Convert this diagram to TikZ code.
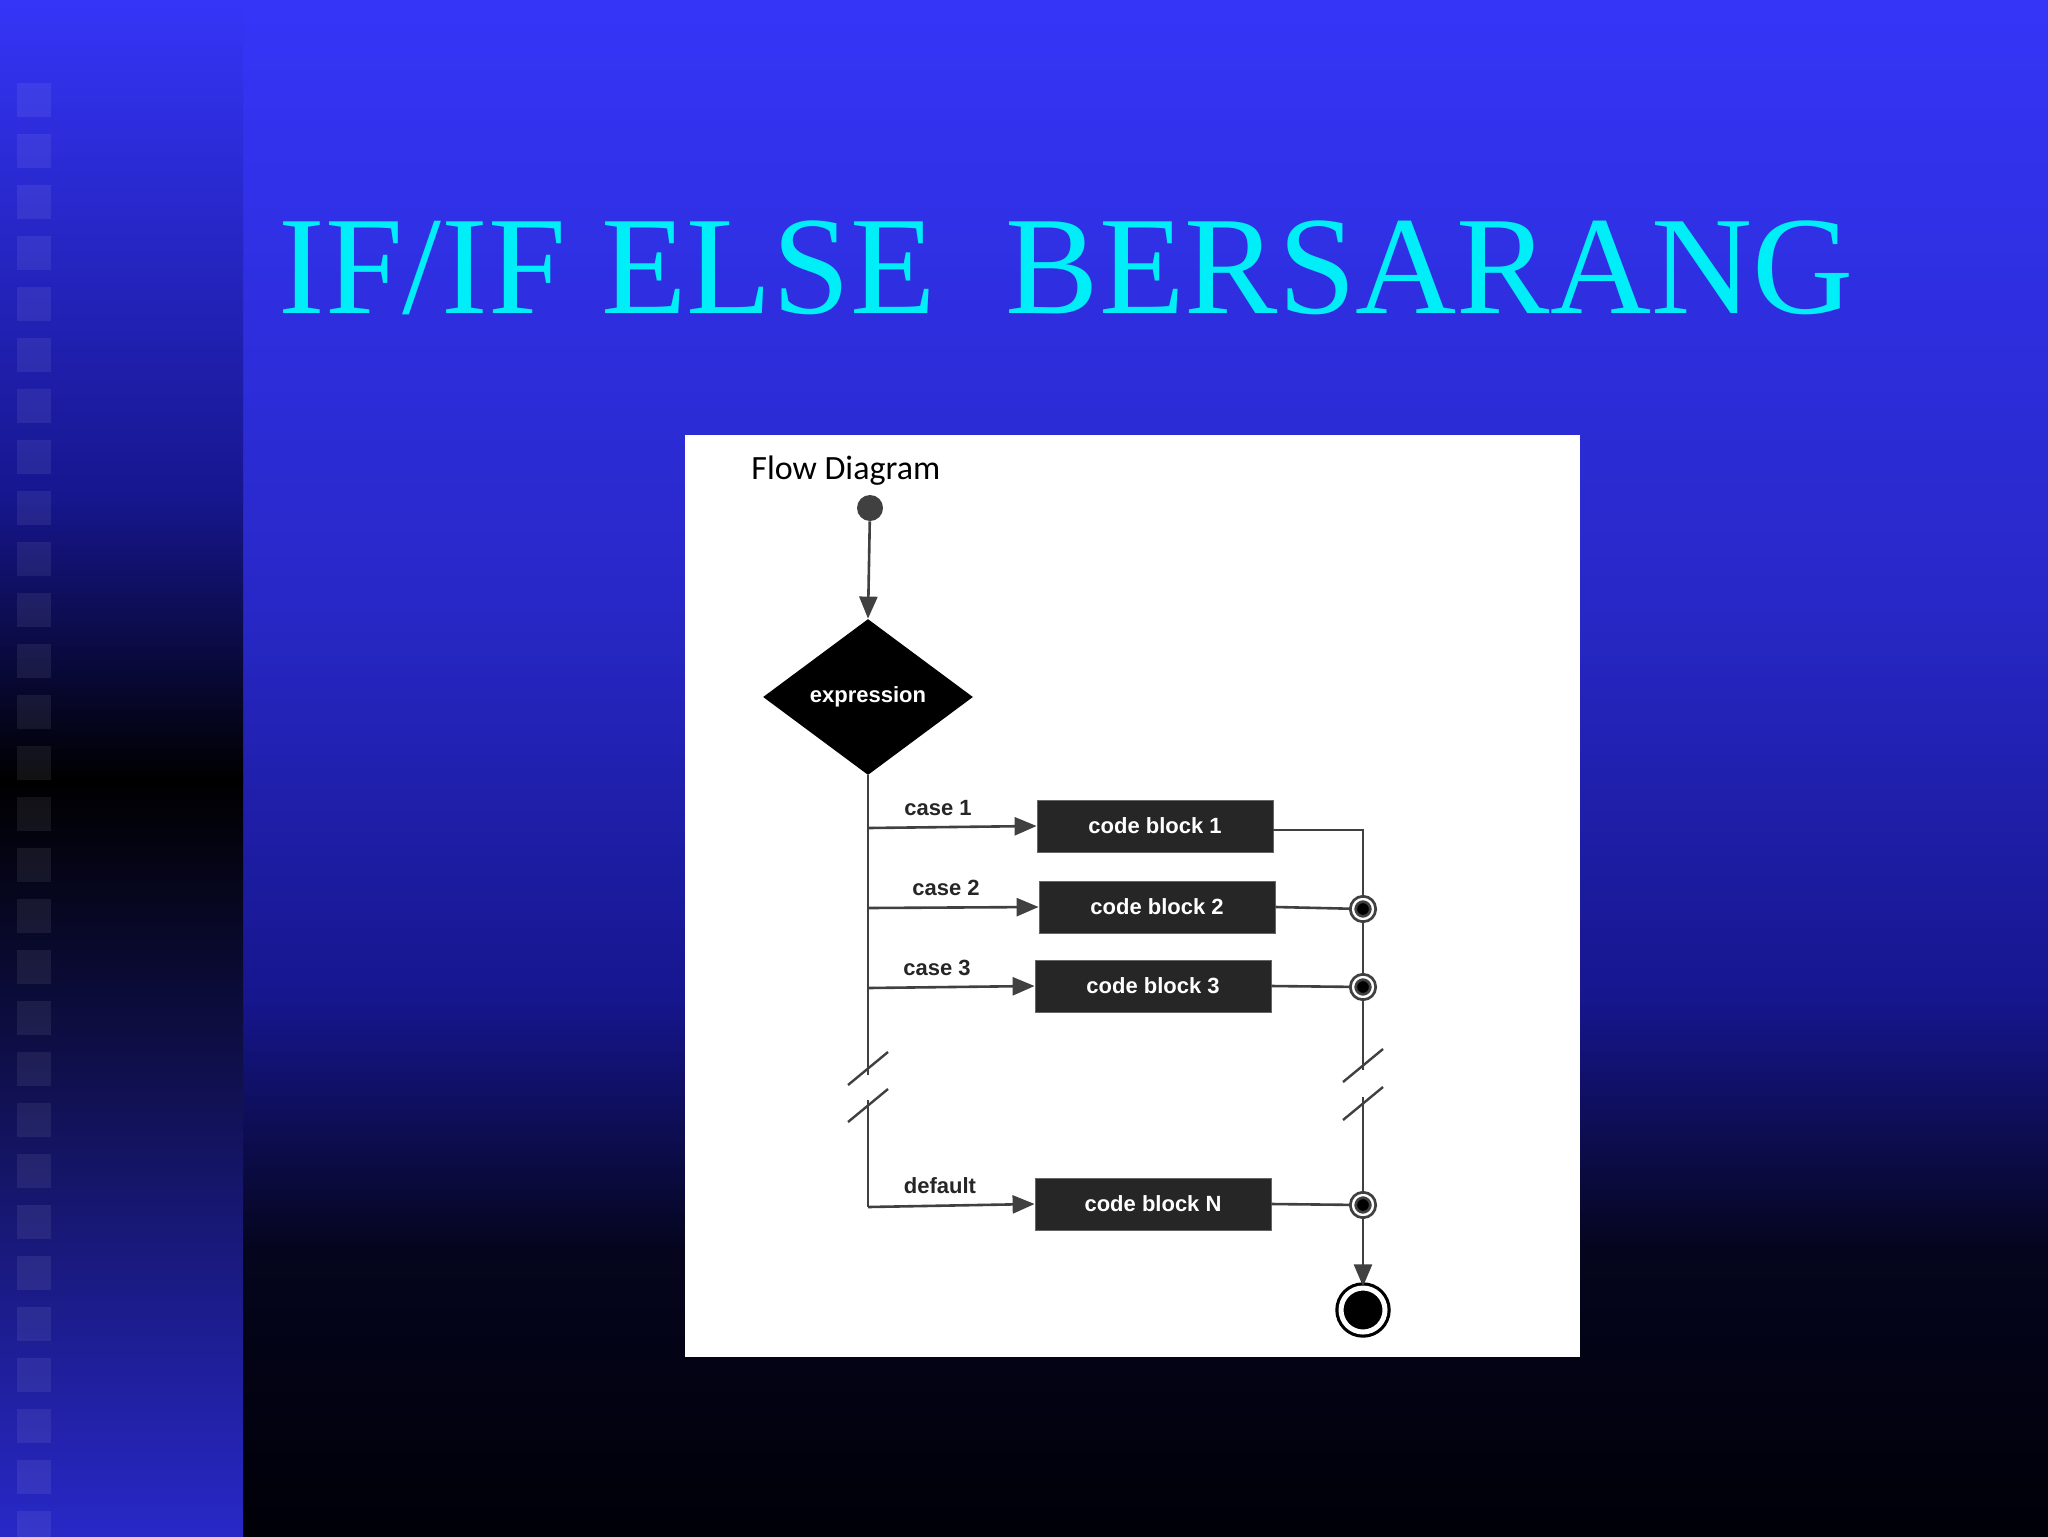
\documentclass[tikz,border=0pt]{standalone}
\usepackage{fontspec}
\setmainfont{Liberation Serif}
\newfontfamily\lab{Liberation Sans}
\newfontfamily\calfnt{Carlito}
\usetikzlibrary{arrows.meta,shapes.geometric}
\definecolor{bA}{HTML}{3535F8}
\definecolor{bB}{HTML}{2828C8}
\definecolor{bC}{HTML}{16168E}
\definecolor{bD}{HTML}{05051E}
\definecolor{bE}{HTML}{000008}
\definecolor{ttl}{HTML}{00EEF8}
\definecolor{gl}{HTML}{404040}
\tikzset{
 cb/.style={fill=black!85,draw=black!60,minimum width=118pt,minimum height=26pt,text=white,font=\lab\bfseries\fontsize{11}{12}\selectfont,inner sep=0pt},
 ln/.style={draw=gl,line width=1.3pt},
 ar/.style={ln,-{Triangle[length=11pt,width=9pt]}},
 lb/.style={font=\lab\bfseries\fontsize{11}{12}\selectfont,text=black!85},
 jn/.style={circle,fill=black,draw=gl,line width=1.4pt,double=white,double distance=1.2pt,minimum size=10pt,inner sep=0pt},
 brk/.style={draw=gl,line width=1.2pt}
}
\begin{document}
\begin{tikzpicture}[x=0.5pt,y=-0.5pt]
\useasboundingbox (0,0) rectangle (2048,1536);
% background main
\shade[top color=bA,bottom color=bB] (0,0) rectangle (2048,600);
\shade[top color=bB,bottom color=bC] (0,599) rectangle (2048,1000);
\shade[top color=bC,bottom color=bD] (0,999) rectangle (2048,1250);
\shade[top color=bD,bottom color=bE] (0,1249) rectangle (2048,1536);
% left strip
\shade[top color=bA,bottom color=bC] (0,0) rectangle (243,500);
\shade[top color=bC,bottom color=black] (0,499) rectangle (243,780);
\shade[top color=black,bottom color=bB] (0,779) rectangle (243,1536);
\foreach \i in {0,...,28}{
 \fill[white,opacity=0.07] (17,{83+51*\i}) rectangle (51,{117+51*\i});
}
% title
\node[anchor=base west,text=ttl,font=\fontsize{70}{80}\selectfont,inner sep=0pt] (title) at (278,313) {IF/IF ELSE\ \ BERSARANG};
% white panel
\fill[white] (685,435) rectangle (1580,1357);
\begin{scope}
\clip (685,435) rectangle (1580,1357);
\node[anchor=base west,font=\calfnt\fontsize{17}{20}\selectfont,inner sep=0pt] (ex) at (750,1385) {Example};
\end{scope}
\node[anchor=base west,font=\calfnt\fontsize{17}{20}\selectfont,inner sep=0pt] (fd) at (751,479) {Flow Diagram};
\node[circle,fill=gl,minimum size=13pt,inner sep=0pt] (start) at (870,508) {};
\node[diamond,fill=black,minimum width=105pt,minimum height=78pt,inner sep=0pt,text=white,font=\lab\bfseries\fontsize{11}{12}\selectfont] (expr) at (868,697) {expression};
\draw[ar] (start) -- (expr.north);
\node[cb] (c1) at (1155,826) {code block 1};
\node[cb] (c2) at (1157,907) {code block 2};
\node[cb] (c3) at (1153,986) {code block 3};
\node[cb] (cN) at (1153,1204) {code block N};
\coordinate (L1) at (868,828);
\coordinate (L2) at (868,908);
\coordinate (L3) at (868,988);
\coordinate (LN) at (868,1207);
\coordinate (Lb1) at (868,1075);
\coordinate (Lb2) at (868,1100);
\draw[ln] (expr.south) -- (Lb1);
\draw[ln] (Lb2) -- (LN);
\draw[brk] (848,1085) -- (888,1052);
\draw[brk] (848,1122) -- (888,1089);
\draw[ar] (L1) -- (c1.west);
\draw[ar] (L2) -- (c2.west);
\draw[ar] (L3) -- (c3.west);
\draw[ar] (LN) -- (cN.west);
\node[lb,anchor=base] (k1) at (938,815) {case 1};
\node[lb,anchor=base] (k2) at (946,895) {case 2};
\node[lb,anchor=base] (k3) at (937,975) {case 3};
\node[lb,anchor=base] (kd) at (940,1193) {default};
% right side
\coordinate (R1) at (1363,830);
\node[jn] (j2) at (1363,909) {};
\node[jn] (j3) at (1363,987) {};
\node[jn] (jN) at (1363,1205) {};
\node[circle,fill=black,draw=black,line width=1.6pt,double=white,double distance=2.5pt,minimum size=22pt,inner sep=0pt] (end) at (1363,1310) {};
\coordinate (Rb1) at (1363,1070);
\coordinate (Rb2) at (1363,1097);
\draw[ln] (c1.east |- R1) -- (R1) -- (j2);
\draw[ln] (j2) -- (j3);
\draw[ln] (j3) -- (Rb1);
\draw[ln] (Rb2) -- (jN);
\draw[brk] (1343,1082) -- (1383,1049);
\draw[brk] (1343,1120) -- (1383,1087);
\draw[ln] (c2.east) -- (j2);
\draw[ln] (c3.east) -- (j3);
\draw[ln] (cN.east) -- (jN);
\draw[ar] (jN) -- (end);
\end{tikzpicture}
\end{document}
